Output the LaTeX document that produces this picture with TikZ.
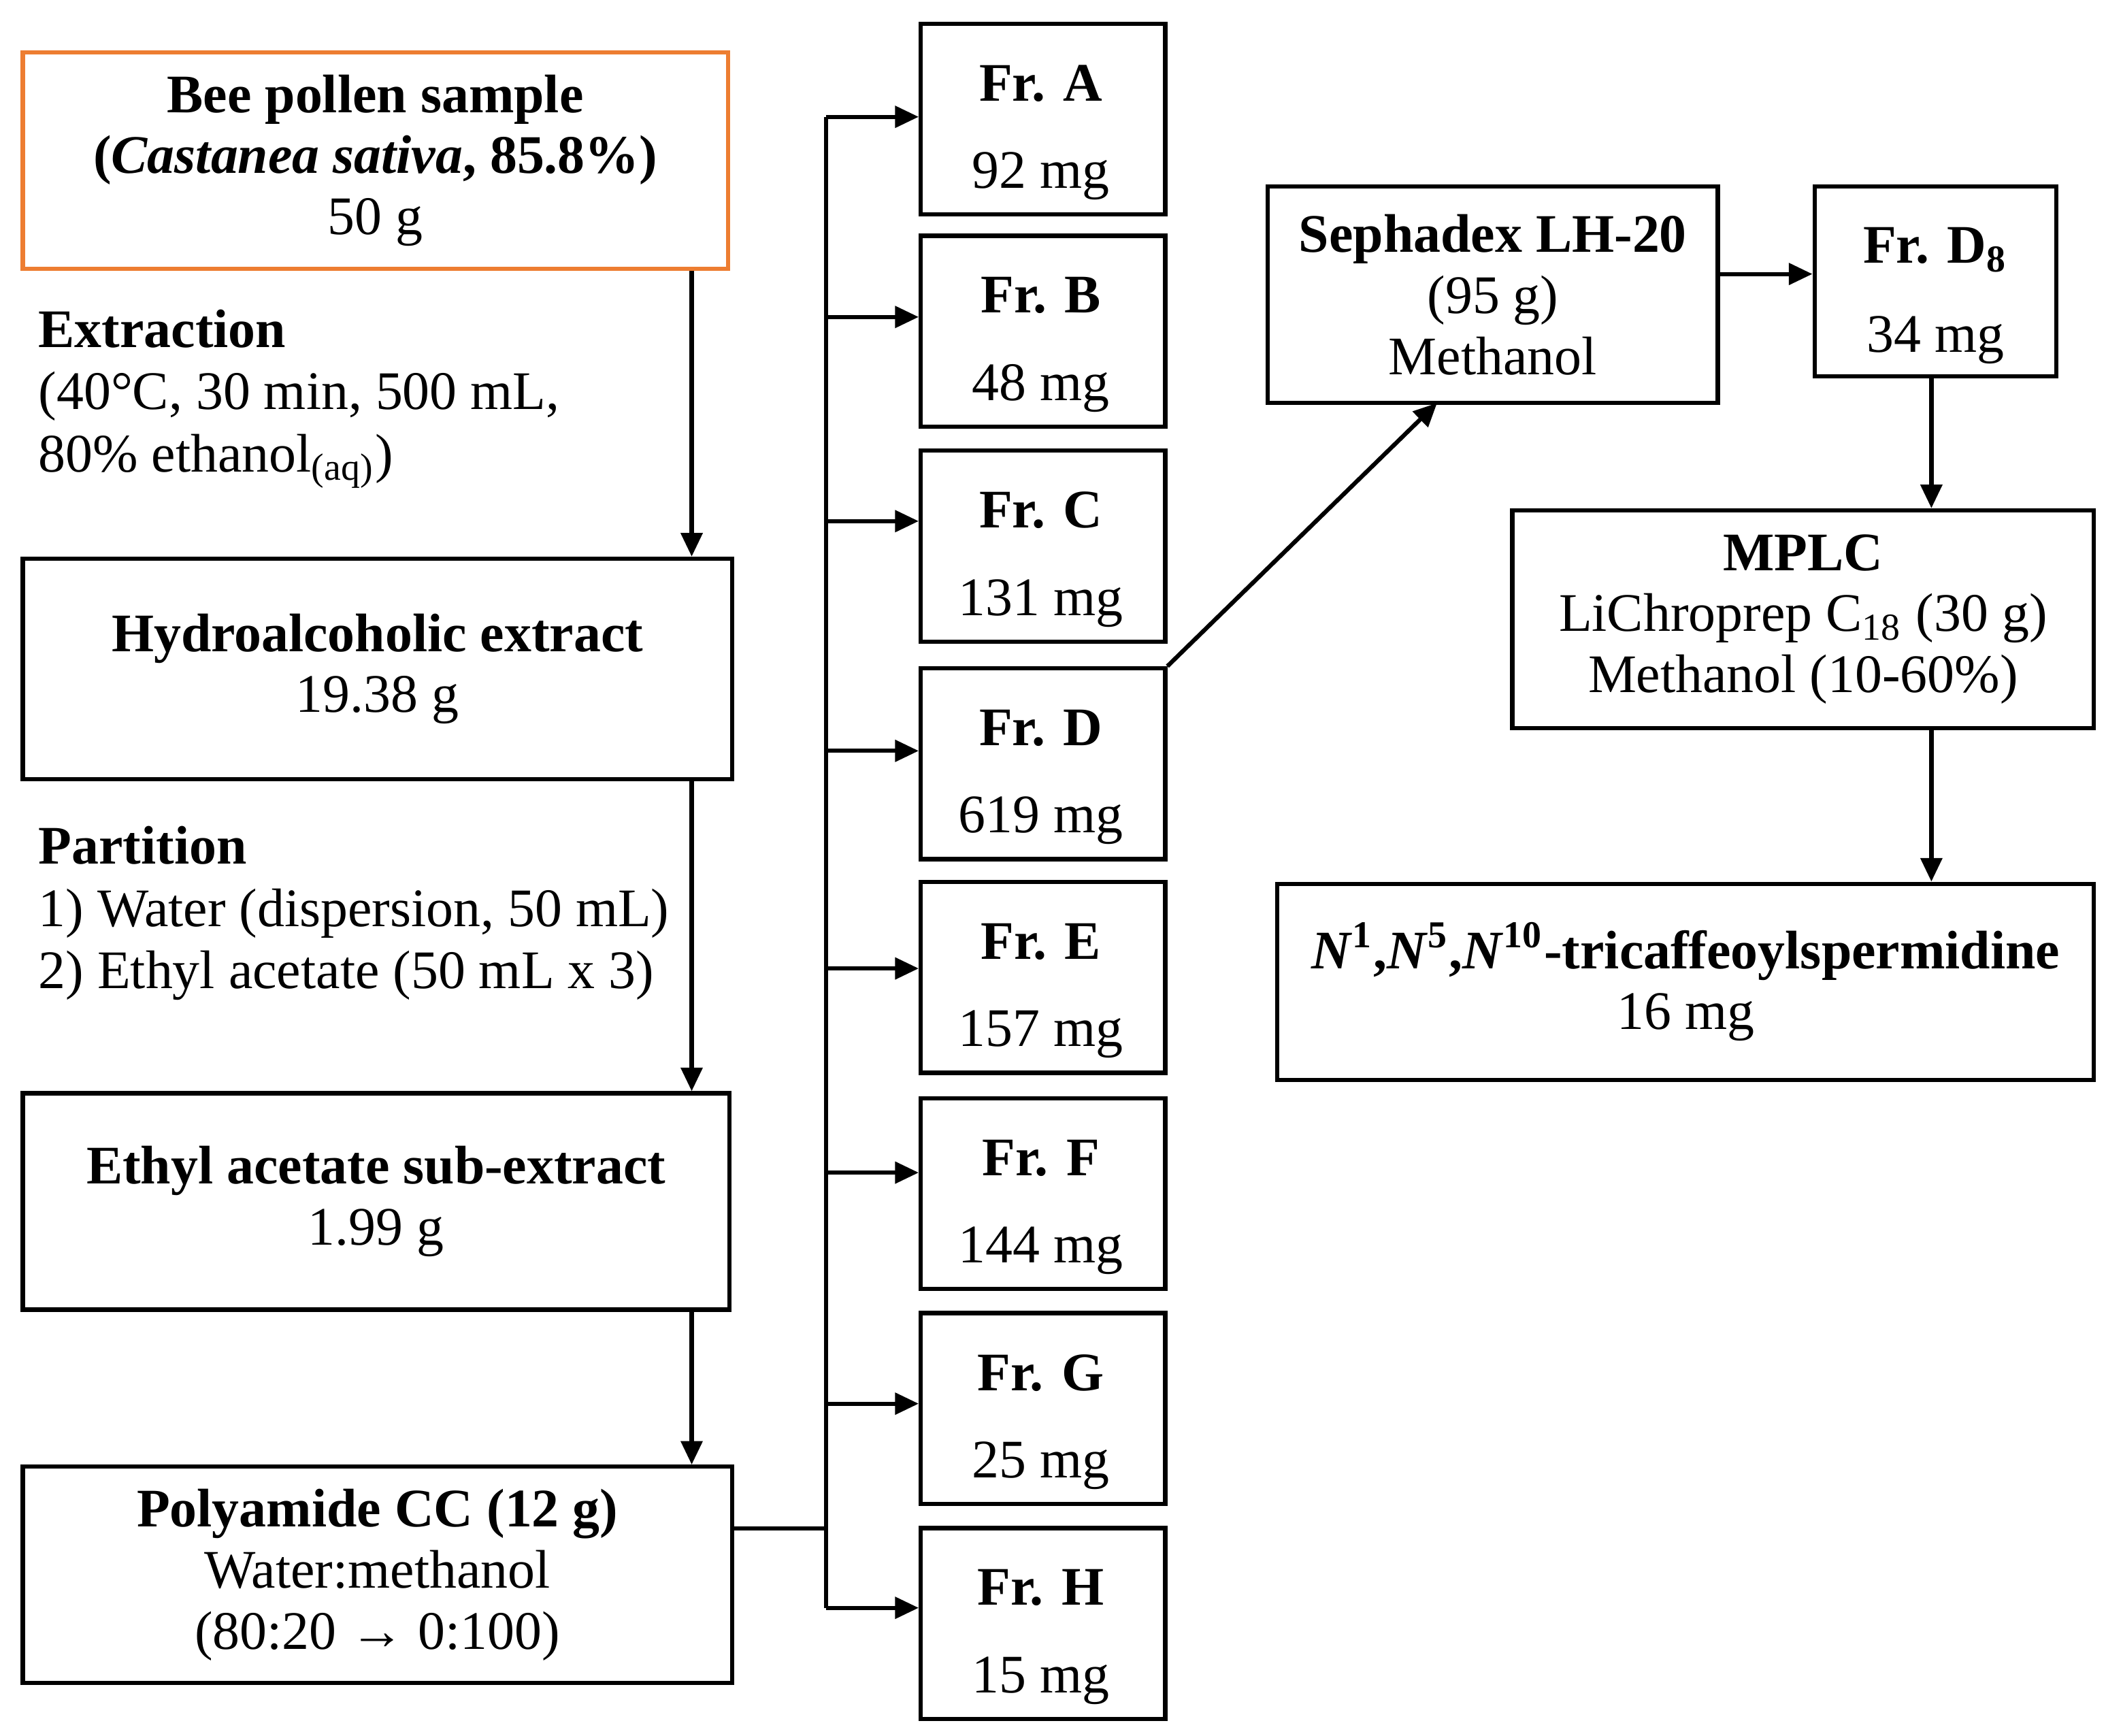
\documentclass[tikz,border=0pt]{standalone}
\usepackage{fontspec}
\setmainfont{Liberation Serif}
\usetikzlibrary{arrows.meta}
\begin{document}
\begin{tikzpicture}[x=0.01cm,y=-0.01cm,
  box/.style={draw,line width=0.9pt,inner sep=0pt,minimum width=#1*0.01cm},
  txt/.style={font=\fontsize{11.5}{12.9}\selectfont,align=center,inner sep=0pt},
  ltxt/.style={font=\fontsize{11.5}{13.2}\selectfont,align=left,inner sep=0pt,anchor=west},
  ar/.style={line width=0.9pt,-{Triangle[length=5pt,width=4.5pt]}},
  ln/.style={line width=0.9pt}]
\useasboundingbox (0,0) rectangle (1568,1292);
% left column boxes
\node[box=525,minimum height=1.61cm,draw={rgb,255:red,237;green,125;blue,49}] (bee) at (279.5,119.5) {};
\node[txt] (beet) at (279.5,119.5) {\textbf{Bee pollen sample}\\\textbf{(\textit{Castanea sativa}, 85.8\%)}\\50 g};
\node[ltxt] (ext) at (28,297) {\textbf{Extraction}\\(40°C, 30 min, 500 mL,\\80\% ethanol\textsubscript{(aq)})};
\node[box=528,minimum height=1.64cm] (hyd) at (281,498) {};
\node[txt] (hydt) at (281,498) {\textbf{Hydroalcoholic extract}\\19.38 g};
\node[ltxt] (par) at (28,680) {\textbf{Partition}\\1) Water (dispersion, 50 mL)\\2) Ethyl acetate (50 mL x 3)};
\node[box=526,minimum height=1.61cm] (eth) at (280,894.5) {};
\node[txt] (etht) at (280,894.5) {\textbf{Ethyl acetate sub-extract}\\1.99 g};
\node[box=528,minimum height=1.61cm] (pol) at (281,1172.5) {};
\node[txt] (polt) at (281,1172.5) {\textbf{Polyamide CC (12 g)}\\Water:methanol\\(80:20 → 0:100)};
\draw[ar] (bee.south -| 515,0) -- (hyd.north -| 515,0);
\draw[ar] (hyd.south -| 515,0) -- (eth.north -| 515,0);
\draw[ar] (eth.south -| 515,0) -- (pol.north -| 515,0);
% fractions
\coordinate (bt) at (615,87);
\coordinate (bb) at (615,1197);
\coordinate (bj) at (615,1138);
\draw[ln] (pol.east |- bj) -- (bj);
\draw[ln] (bt) -- (bb);
\foreach \n/\t/\m/\ay in {A/16/92/87,B/174/48/236,C/334/131/388,D/496/619/559,E/655/157/721,F/816/144/873,G/976/25/1045,H/1136/15/1197}{
  \node[box=182,minimum height=1.42cm,anchor=north west] (fr\n) at (684,\t) {};
  \node[txt] (fr\n t) at (775,\t+46) {\textbf{Fr. \n}};
  \node[txt] (fr\n m) at (775,\t+115) {\m\ mg};
  \coordinate (a\n) at (615,\ay);
  \draw[ar] (a\n) -- (a\n -| fr\n.west);
}
% right side
\node[box=335,minimum height=1.61cm] (sep) at (1111.5,219.5) {};
\node[txt] (sept) at (1111.5,219.5) {\textbf{Sephadex LH-20}\\(95 g)\\Methanol};
\node[box=180,minimum height=1.41cm] (d8) at (1441,209.5) {};
\node[txt] (d8t) at (1441,186) {\textbf{Fr. D\textsubscript{8}}};
\node[txt] (d8m) at (1441,253) {34 mg};
\node[box=433,minimum height=1.62cm] (mp) at (1342.5,461) {};
\node[txt] (mpt) at (1342.5,461) {\textbf{MPLC}\\LiChroprep C\textsubscript{18} (30 g)\\Methanol (10-60\%)};
\node[box=608,minimum height=1.46cm] (fin) at (1255,731) {};
\node[txt] (fint) at (1255,731) {\textbf{\textit{N}\textsuperscript{1},\textit{N}\textsuperscript{5},\textit{N}\textsuperscript{10}-tricaffeoylspermidine}\\16 mg};
\coordinate (sb) at (1070,300);
\draw[ar] (frD.north east) -- (sb);
\draw[ar] (sep.east |- 0,204) -- (d8.west |- 0,204);
\draw[ar] (d8.south -| 1438,0) -- (mp.north -| 1438,0);
\draw[ar] (mp.south -| 1438,0) -- (fin.north -| 1438,0);
\end{tikzpicture}
\end{document}
